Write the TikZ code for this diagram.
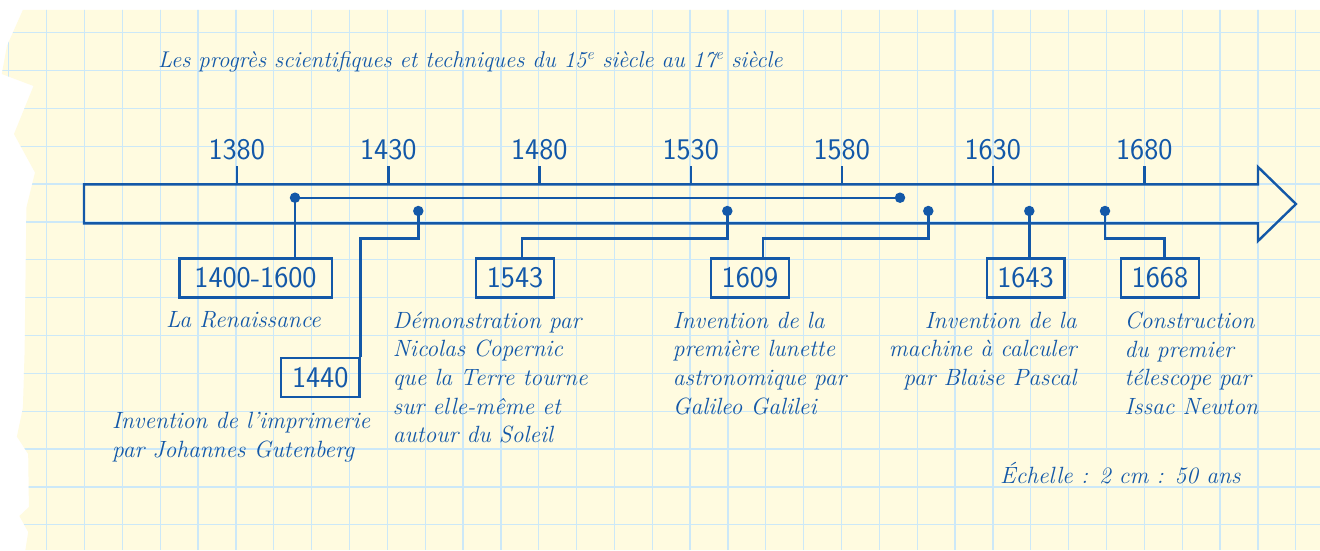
\documentclass[tikz,border=0pt]{standalone}
\usepackage{fontspec}
\definecolor{ink}{HTML}{1358A8}
\definecolor{paper}{HTML}{FFFBE0}
\definecolor{gridc}{HTML}{CCE8F8}
\newcommand\yearfont{\sffamily\fontsize{30}{31}\selectfont}
\newcommand\descfont{\itshape\fontsize{23.5}{28.7}\selectfont}
\newcommand\paperoutline{(22.9,9.9) -- (1320,9.9) -- (1320,550) -- (25.4,550) -- (28.2,532) -- (19.4,516) -- (28.9,507) -- (28.2,454) -- (16.9,436.6) -- (22.9,408) -- (24.6,352) -- (26.4,207.7) -- (35,172.5) -- (14,134) -- (33.5,86) -- (1.8,74) -- (7,45.8) -- cycle}
\begin{document}
\begin{tikzpicture}[x=1pt,y=-1pt,
  ink line/.style={draw=ink,line width=2.4pt},
  dot/.style={circle,fill=ink,inner sep=0pt,minimum size=10.5pt},
  yearbox/.style={draw=ink,line width=2.4pt,minimum height=39pt,inner sep=0pt,font=\yearfont,text=ink},
  ticklabel/.style={font=\yearfont,text=ink,inner sep=0pt},
  desc/.style={font=\descfont,text=ink,inner sep=0pt},
]
\useasboundingbox (0,0) rectangle (1320,550);
\fill[white] (0,0) rectangle (1320,550);
\fill[paper] \paperoutline;
\begin{scope}
\clip \paperoutline;
\foreach \i in {0,...,34} \draw[gridc,line width=1.3pt] ({8.8+37.85*\i},0) -- ({8.8+37.85*\i},550);
\foreach \j in {0,...,13} \draw[gridc,line width=1.3pt] (0,{32.7+37.85*\j}) -- (1320,{32.7+37.85*\j});
\end{scope}

% timeline arrow
\draw[ink line] (84,184.3) -- (1258,184.3) -- (1258,167) -- (1296,204) -- (1258,241) -- (1258,223.3) -- (84,223.3) -- cycle;

% ticks and year labels
\foreach \yr/\xx in {1380/236.7,1430/388.3,1480/539.3,1530/690.7,1580/841.7,1630/992.7,1680/1144.3}{
  \coordinate (t\yr) at (\xx,184.3);
  \draw[ink line] (t\yr) -- ++(0,-18.3);
  \node[ticklabel] (l\yr) at (\xx,150) {\yr};
}

% event dots
\node[dot] (d1400) at (295,197.7) {};
\node[dot] (d1600) at (900,197.7) {};
\node[dot] (d1440) at (418.3,211) {};
\node[dot] (d1543) at (727.3,211) {};
\node[dot] (d1609) at (928.3,211) {};
\node[dot] (d1643) at (1029.3,211) {};
\node[dot] (d1668) at (1105,211) {};

% year boxes
\node[yearbox,minimum width=152.4pt] (b1400) at (255.5,278) {\raisebox{-2.5pt}{1400-1600}};
\node[yearbox,minimum width=78.3pt] (b1440) at (320.2,377.5) {\raisebox{-2.5pt}{1440}};
\node[yearbox,minimum width=78pt] (b1543) at (515,278) {\raisebox{-2.5pt}{1543}};
\node[yearbox,minimum width=78.3pt] (b1609) at (749.9,278) {\raisebox{-2.5pt}{1609}};
\node[yearbox,minimum width=77.6pt] (b1643) at (1025.5,278) {\raisebox{-2.5pt}{1643}};
\node[yearbox,minimum width=78.3pt] (b1668) at (1159.9,278) {\raisebox{-2.5pt}{1668}};

% connectors
\draw[ink line] (d1400.center) -- (d1600.center);
\draw[ink line] (d1400.center) -- (d1400.center |- b1400.north);
\draw[ink line] (d1440.center) -- ++(0,27.3) -| (b1440.north east);
\draw[ink line] (d1543.center) -- ++(0,27.3) -| ([xshift=6.7pt]b1543.north);
\draw[ink line] (d1609.center) -- ++(0,27.3) -| ([xshift=12.8pt]b1609.north);
\draw[ink line] (d1643.center) -- (d1643.center |- b1643.north);
\draw[ink line] (d1668.center) -- ++(0,27.3) -| ([xshift=4.4pt]b1668.north);

% texts
\node[desc,anchor=base west] (title) at (158,67) {\fontsize{22.8}{26}\selectfont Les progrès scientifiques et techniques du 15\textsuperscript{e} siècle au 17\textsuperscript{e} siècle};
\node[desc,anchor=north west] (t1400) at (166,311.6) {La Renaissance};
\node[desc,anchor=north west,align=left] (t1440) at (112,412) {Invention de l'imprimerie\\par Johannes Gutenberg};
\node[desc,anchor=north west,align=left] (t1543) at (392.7,311.6) {Démonstration par\\Nicolas Copernic\\que la Terre tourne\\sur elle-même et\\autour du Soleil};
\node[desc,anchor=north west,align=left] (t1609) at (672.7,311.6) {Invention de la\\première lunette\\astronomique par\\Galileo Galilei};
\node[desc,anchor=north east,align=right] (t1643) at (1076.7,311.6) {Invention de la\\machine à calculer\\par Blaise Pascal};
\node[desc,anchor=north west,align=left] (t1668) at (1124.3,311.6) {Construction\\du premier\\télescope par\\Issac Newton};
\node[desc,anchor=base west] (scale) at (1000,483) {Échelle : 2 cm : 50 ans};
\end{tikzpicture}
\end{document}
